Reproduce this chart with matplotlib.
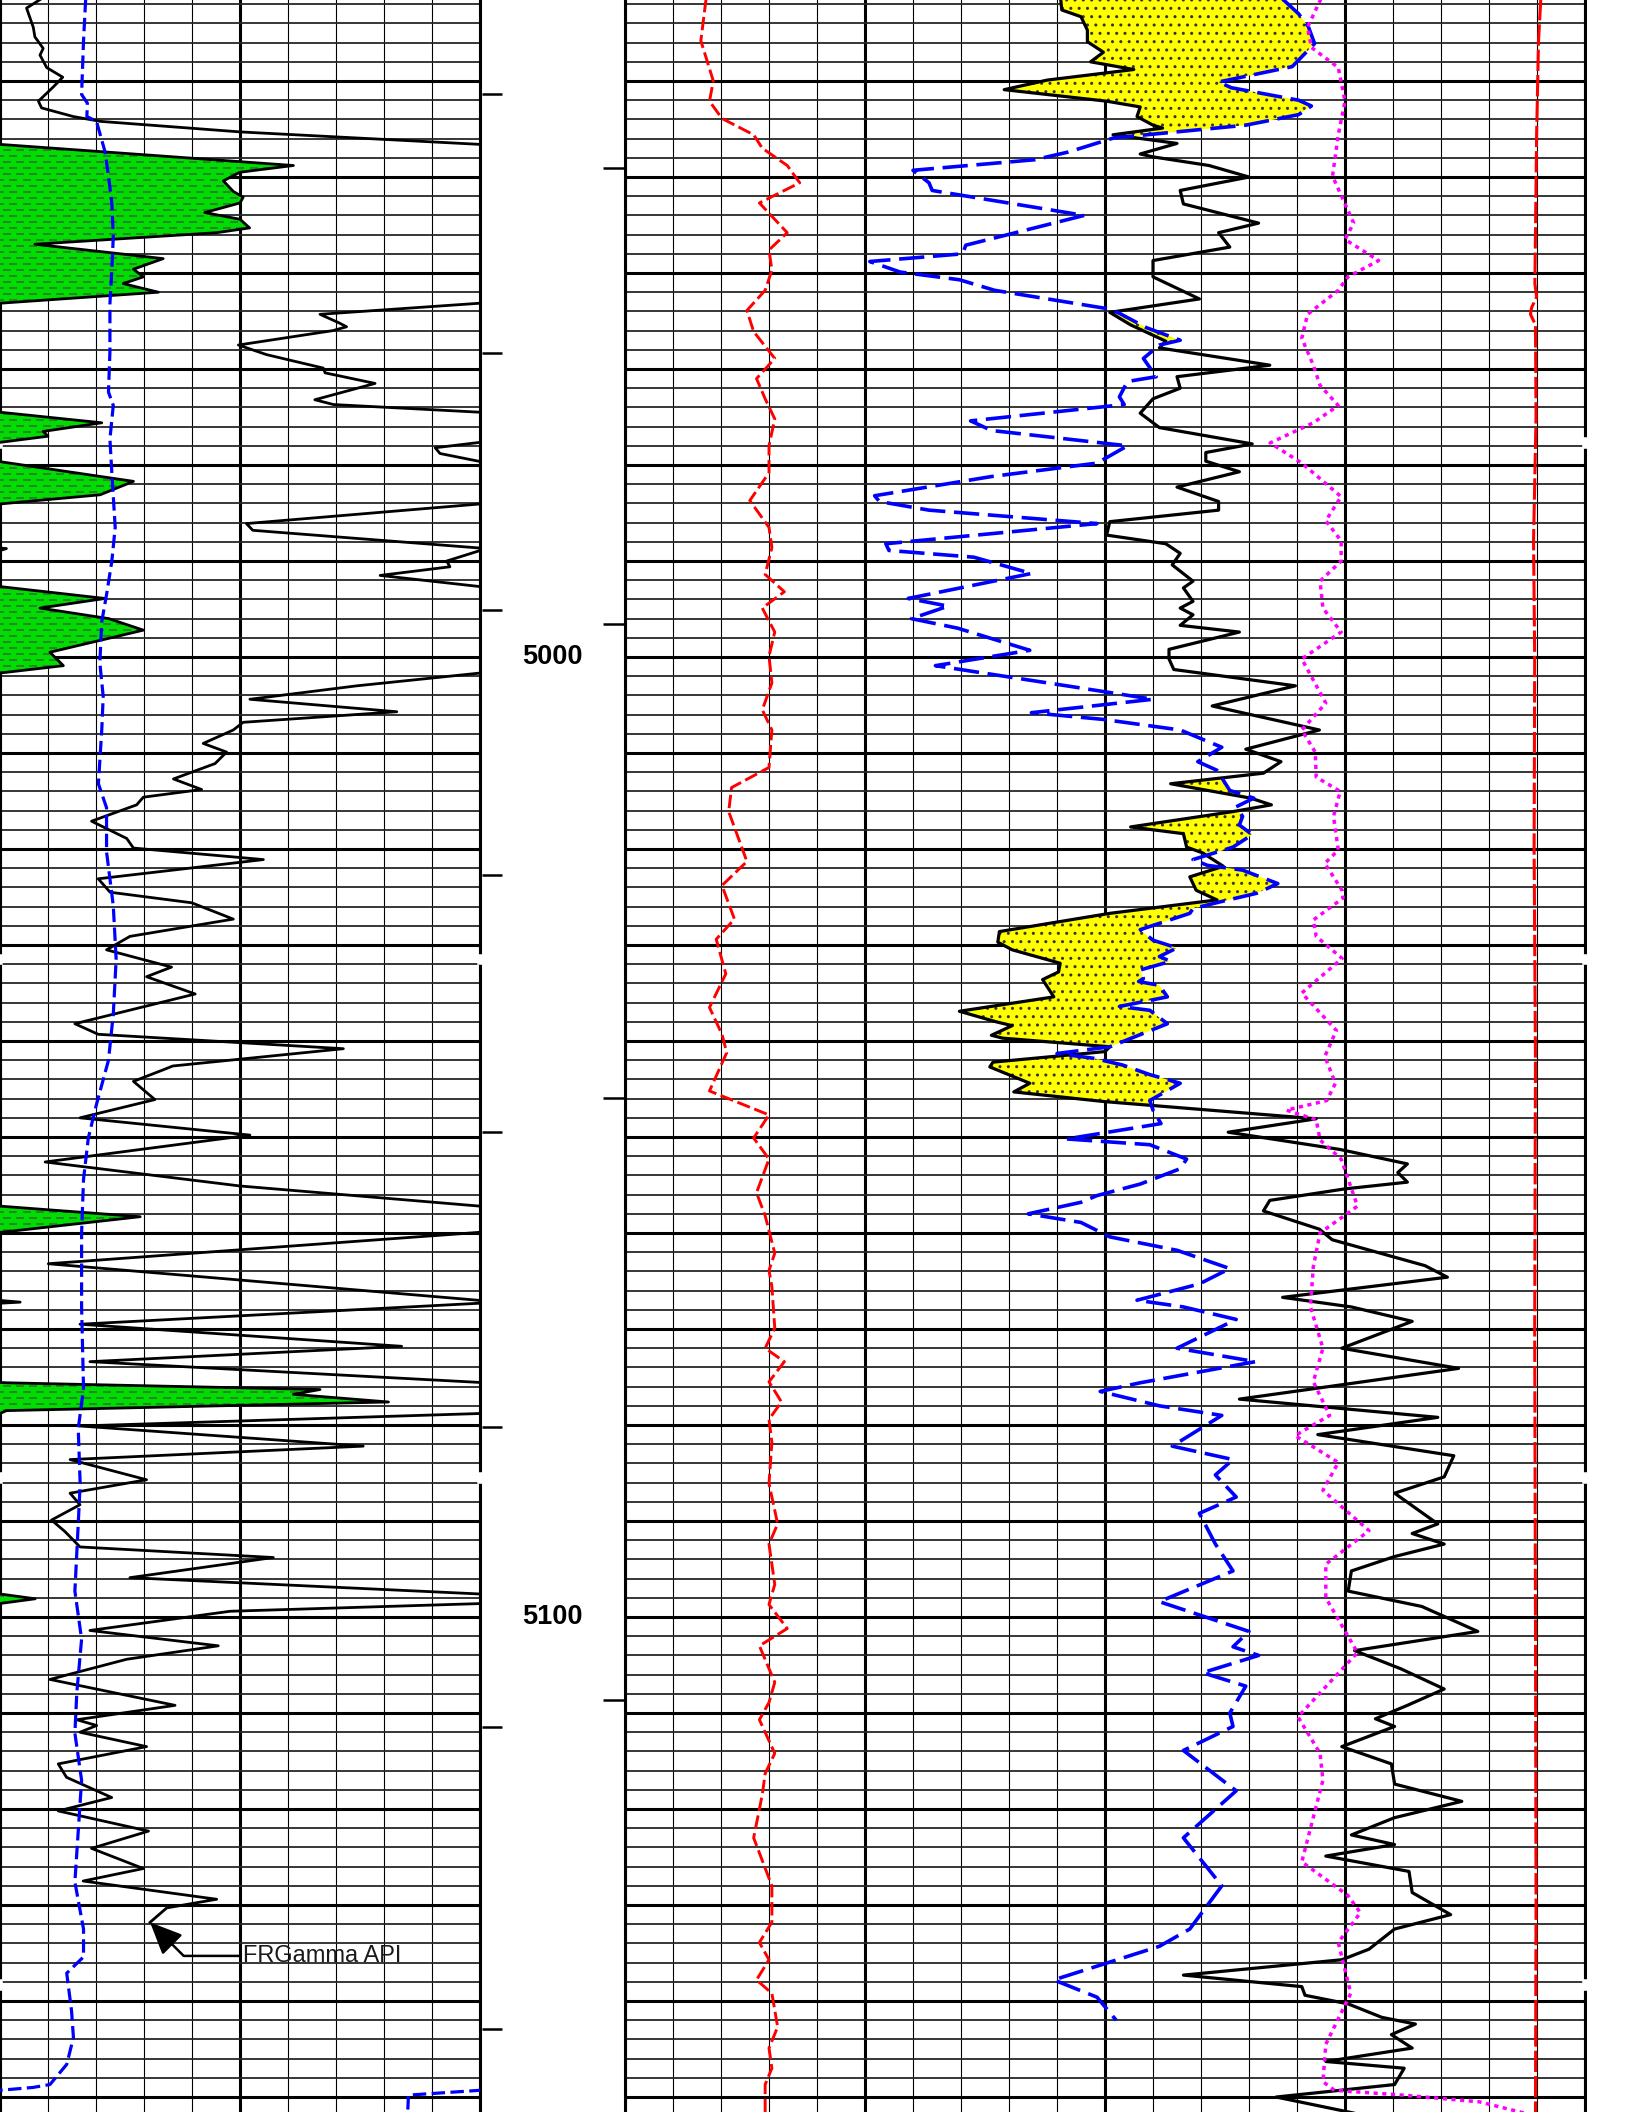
import matplotlib.pyplot as plt
import numpy as np
from matplotlib.path import Path
from matplotlib.ticker import MultipleLocator

plt.rcParams['font.family'] = ['Liberation Sans', 'DejaVu Sans']
plt.rcParams['hatch.color'] = '#333333'
plt.rcParams['hatch.linewidth'] = 1.0
plt.rcParams['lines.solid_joinstyle'] = 'round'
plt.rcParams['lines.dash_joinstyle'] = 'round'

TOP, BASE = 4931.56, 5151.56

# gamma ray (API), 0-150 with wrap onto 150-300 backup scale
gr_depth = [4931.0, 4932.4, 4934.4, 4935.4, 4936.6, 4937.3, 4938.6, 4939.6, 4940.6, 4942.1,
            4942.8, 4943.7, 4944.2, 4945.3, 4946.6, 4948.8, 4949.5, 4950.4, 4951.5, 4952.1,
            4952.7, 4953.7, 4954.4, 4955.3, 4955.8, 4957.0, 4958.5, 4959.6, 4960.4, 4961.1,
            4962.0, 4963.1, 4964.3, 4965.2, 4965.6, 4966.0, 4967.5, 4968.5, 4969.9, 4970.4,
            4971.5, 4973.2, 4973.7, 4974.5, 4975.6, 4976.5, 4977.0, 4977.6, 4978.2, 4978.8,
            4979.7, 4981.7, 4983.1, 4984.0, 4986.1, 4986.8, 4988.7, 4990.0, 4990.6, 4991.5,
            4992.7, 4993.9, 4994.9, 4996.0, 4997.2, 4999.5, 5000.9, 5001.6, 5003.0, 5004.4,
            5005.7, 5006.8, 5007.6, 5009.0, 5009.9, 5011.1, 5012.7, 5013.8, 5014.6, 5015.4,
            5017.1, 5018.9, 5019.9, 5021.1, 5023.1, 5024.5, 5025.6, 5027.3, 5029.1, 5030.5,
            5032.3, 5033.3, 5035.1, 5038.2, 5039.3, 5040.8, 5042.6, 5043.0, 5044.2, 5046.1,
            5048.0, 5049.8, 5052.6, 5055.1, 5057.2, 5058.3, 5059.9, 5063.2, 5067.2, 5069.5,
            5071.8, 5073.4, 5075.6, 5076.3, 5076.8, 5077.6, 5078.5, 5078.8, 5080.1, 5082.2,
            5083.6, 5085.7, 5087.1, 5088.3, 5089.9, 5091.1, 5092.7, 5093.8, 5095.9, 5097.6,
            5098.1, 5098.6, 5099.4, 5101.4, 5103.0, 5104.4, 5106.5, 5109.2, 5110.7, 5111.3,
            5112.0, 5113.5, 5115.3, 5116.7, 5118.8, 5120.2, 5122.3, 5124.1, 5126.2, 5127.5,
            5129.4, 5130.3, 5131.8]
gr_api = [15.0, 8.3, 10.4, 10.9, 13.5, 12.5, 14.6, 19.6, 16.7, 12.0,
          13.0, 22.9, 31.3, 75.0, 150.0, 241.7, 225.0, 219.8, 222.9, 226.0,
          225.0, 214.0, 225.0, 228.0, 217.7, 160.9, 201.0, 191.7, 194.8, 188.5,
          199.5, 152.0, 100.0, 106.0, 108.3, 104.0, 74.5, 83.3, 101.0, 101.6,
          117.2, 98.4, 104.2, 150.0, 181.8, 163.5, 165.0, 151.0, 136.0, 137.5,
          151.0, 191.7, 181.3, 152.0, 77.0, 79.0, 152.0, 139.6, 140.6, 118.8,
          151.0, 182.8, 162.5, 184.0, 194.8, 165.6, 169.8, 152.0, 111.5, 78.1,
          124.0, 76.0, 72.9, 63.5, 70.8, 67.2, 54.2, 63.0, 44.8, 42.7,
          28.6, 39.6, 41.7, 82.3, 30.7, 34.4, 59.9, 72.9, 40.6, 33.3,
          53.6, 45.8, 61.0, 23.4, 30.7, 107.3, 54.0, 51.0, 41.7, 48.4,
          25.0, 78.1, 14.1, 75.0, 150.0, 193.8, 151.0, 15.1, 156.3, 25.0,
          125.5, 28.1, 152.0, 250.0, 241.7, 271.4, 152.0, 150.0, 25.0, 113.5,
          21.9, 45.8, 21.9, 25.0, 16.1, 20.3, 25.0, 85.4, 40.6, 150.0,
          161.0, 150.0, 71.9, 28.1, 68.2, 39.6, 15.6, 54.7, 24.0, 30.2,
          25.0, 45.8, 18.2, 20.8, 34.9, 18.2, 46.4, 28.6, 44.8, 26.0,
          67.7, 52.1, 46.9]

# caliper in the gamma ray track (in), 6-16 with wrap below 6
cal_depth = [4931.0, 4935.8, 4941.4, 4942.3, 4943.7, 4944.2, 4947.4, 4949.9, 4952.7, 4956.2,
             4959.7, 4963.2, 4968.2, 4972.4, 4973.8, 4977.3, 4980.8, 4986.5, 4990.0, 4993.5,
             4996.3, 5000.6, 5004.1, 5007.6, 5013.2, 5015.7, 5020.3, 5025.9, 5031.5, 5037.2,
             5042.0, 5046.6, 5050.1, 5054.4, 5060.0, 5067.7, 5076.2, 5080.4, 5086.1, 5090.3,
             5097.3, 5102.3, 5107.9, 5112.1, 5117.0, 5127.6, 5132.5, 5135.4, 5137.1, 5141.0,
             5143.8, 5146.6, 5148.7, 5149.0, 5149.3, 5149.8, 5152.0]
cal_in = [7.79, 7.74, 7.70, 7.82, 7.81, 8.01, 8.19, 8.26, 8.33, 8.36,
          8.33, 8.29, 8.29, 8.26, 8.36, 8.29, 8.33, 8.40, 8.33, 8.22,
          8.12, 8.08, 8.15, 8.12, 8.05, 8.22, 8.22, 8.36, 8.42, 8.36,
          8.26, 8.01, 7.84, 7.74, 7.70, 7.70, 7.74, 7.63, 7.67, 7.63,
          7.56, 7.70, 7.60, 7.56, 7.70, 7.56, 7.74, 7.74, 7.39, 7.49,
          7.53, 7.39, 7.04, 6.69, 6.00, 4.51, 4.49]

# density porosity (%), 45 .. -15
dphi_depth = [4931.0, 4932.6, 4933.3, 4934.7, 4935.9, 4937.0, 4938.0, 4938.8, 4939.9, 4940.9,
              4942.1, 4942.7, 4943.7, 4944.6, 4944.9, 4945.6, 4946.5, 4947.6, 4947.9, 4948.8,
              4950.0, 4951.4, 4952.8, 4954.8, 4955.8, 4957.3, 4958.7, 4960.4, 4962.7, 4964.1,
              4965.4, 4967.1, 4967.8, 4969.6, 4970.8, 4972.0, 4973.1, 4974.6, 4976.1, 4977.8,
              4978.7, 4979.6, 4980.7, 4982.3, 4983.8, 4984.7, 4985.9, 4987.3, 4988.2, 4989.2,
              4990.4, 4992.1, 4992.8, 4994.2, 4994.9, 4995.6, 4996.7, 4997.4, 4999.2, 5000.2,
              5001.3, 5003.0, 5005.1, 5007.6, 5009.6, 5010.9, 5012.1, 5013.2, 5014.7, 5015.4,
              5016.1, 5017.7, 5018.4, 5019.8, 5020.4, 5021.8, 5022.9, 5024.3, 5025.3, 5026.7,
              5028.6, 5029.7, 5030.5, 5031.9, 5032.8, 5033.6, 5035.4, 5036.9, 5038.0, 5038.4,
              5039.4, 5039.7, 5040.6, 5041.1, 5042.2, 5042.7, 5044.4, 5045.3, 5046.3, 5048.1,
              5049.5, 5051.3, 5052.8, 5053.7, 5054.7, 5055.4, 5056.6, 5057.7, 5059.6, 5060.7,
              5063.4, 5064.6, 5066.7, 5067.7, 5069.2, 5072.0, 5074.1, 5077.3, 5079.2, 5081.0,
              5083.2, 5085.4, 5087.1, 5090.3, 5091.3, 5092.4, 5093.7, 5095.2, 5097.3, 5098.9,
              5101.5, 5103.5, 5105.4, 5107.5, 5109.2, 5110.6, 5111.4, 5113.5, 5115.3, 5117.4,
              5119.2, 5120.9, 5122.7, 5123.7, 5124.9, 5126.5, 5128.7, 5131.0, 5132.5, 5134.6,
              5135.7, 5137.3, 5138.5, 5139.4, 5140.3, 5141.7, 5142.4, 5143.5, 5144.9, 5146.3,
              5147.0, 5148.7, 5150.0, 5152.0]
dphi = [17.8, 17.7, 16.5, 16.1, 16.1, 15.1, 15.9, 13.2, 18.6, 21.3,
        14.9, 12.8, 13.0, 12.0, 11.4, 14.5, 10.5, 12.8, 12.0, 8.5,
        6.0, 10.3, 10.1, 5.4, 7.9, 7.2, 12.0, 12.0, 9.1, 14.7,
        13.4, 11.2, 11.6, 4.7, 10.5, 10.3, 12.0, 12.8, 11.6, 5.8,
        8.7, 8.7, 6.6, 10.5, 7.9, 7.9, 14.7, 14.9, 11.2, 10.3,
        10.8, 9.5, 10.1, 9.5, 10.3, 9.5, 10.3, 6.6, 11.0, 11.0,
        10.7, 3.1, 8.3, 1.6, 6.2, 4.0, 5.1, 10.9, 5.9, 4.6,
        7.0, 13.4, 10.1, 9.9, 8.9, 7.6, 9.7, 9.3, 8.0, 14.7,
        21.6, 21.7, 20.8, 17.8, 17.9, 18.9, 18.2, 24.1, 21.8, 20.8,
        22.1, 21.4, 14.7, 15.0, 22.0, 22.2, 19.7, 20.7, 15.1, 1.8,
        7.3, 0.3, -3.9, -3.3, -3.9, 0.0, 4.7, 5.1, 1.6, 0.8,
        -5.0, -6.4, 3.9, -0.4, -4.2, 0.2, -7.1, 6.6, -5.8, 1.7,
        -6.8, -6.2, -3.1, -5.8, -4.2, -6.2, -3.1, -0.4, -0.2, -4.8,
        -8.3, -0.6, -3.5, -6.2, -3.9, -1.9, -3.1, 0.2, -2.9, -3.1,
        -7.3, -3.1, -0.4, -3.1, 1.2, -4.0, -4.2, -6.6, -3.1, -1.5,
        0.2, 10.1, 2.7, 2.5, -0.2, -2.3, -4.4, -2.9, -4.2, 1.2,
        -3.7, -3.1, 4.3, -1.5]

# neutron porosity (%), same scale
nphi_depth = [4931.0, 4933.0, 4934.3, 4936.1, 4938.5, 4940.1, 4940.7, 4942.0, 4942.6, 4943.5,
              4944.6, 4945.6, 4945.9, 4947.4, 4948.2, 4949.3, 4950.6, 4951.4, 4954.0, 4957.1,
              4958.0, 4958.8, 4959.9, 4960.7, 4961.8, 4963.7, 4964.2, 4965.7, 4967.0, 4967.5,
              4968.9, 4970.8, 4971.3, 4972.9, 4973.7, 4975.4, 4976.4, 4978.0, 4979.8, 4981.2,
              4983.2, 4983.8, 4984.7, 4986.1, 4988.2, 4988.9, 4989.6, 4991.3, 4993.9, 4994.7,
              4996.0, 4997.0, 4999.3, 5000.9, 5003.0, 5004.4, 5005.8, 5006.5, 5007.6, 5009.4,
              5010.9, 5011.8, 5013.9, 5014.7, 5015.6, 5016.6, 5017.5, 5018.5, 5019.8, 5021.1,
              5021.7, 5022.2, 5023.6, 5024.6, 5025.5, 5026.2, 5026.7, 5028.4, 5029.5, 5030.3,
              5031.2, 5031.7, 5032.6, 5033.5, 5033.8, 5034.2, 5035.4, 5036.4, 5036.8, 5038.2,
              5040.6, 5041.3, 5041.8, 5042.5, 5043.5, 5044.4, 5046.2, 5047.2, 5048.6, 5050.2,
              5050.8, 5052.3, 5053.3, 5054.9, 5056.1, 5056.8, 5058.0, 5058.9, 5060.4, 5061.8,
              5063.7, 5065.3, 5067.0, 5067.7, 5069.0, 5072.0, 5073.4, 5075.6, 5076.5, 5078.0,
              5079.0, 5082.2, 5083.6, 5085.2, 5087.5, 5089.2, 5092.4, 5095.2, 5098.4, 5101.5,
              5103.1, 5104.0, 5105.8, 5107.2, 5110.0, 5111.4, 5113.9, 5118.1, 5123.0, 5128.0,
              5132.5, 5134.3, 5137.8, 5139.6, 5142.0]
nphi = [4.2, 2.9, 2.3, 1.9, 3.3, 7.9, 7.1, 2.9, 2.1, 2.9,
        6.2, 12.4, 14.4, 17.3, 19.4, 27.0, 26.0, 25.8, 16.3, 23.7,
        23.9, 29.7, 27.8, 24.1, 21.9, 14.9, 14.1, 12.4, 10.3, 11.6,
        12.6, 11.8, 13.6, 14.1, 13.8, 23.4, 22.1, 13.6, 15.5, 22.1,
        29.4, 29.1, 26.0, 15.5, 28.7, 28.5, 23.2, 19.6, 27.3, 24.8,
        27.1, 24.2, 19.7, 25.6, 17.4, 12.0, 19.6, 15.1, 10.3, 7.7,
        9.2, 8.0, 7.2, 5.7, 6.8, 6.4, 6.6, 5.8, 7.0, 9.5,
        8.6, 6.4, 4.2, 5.5, 7.8, 9.5, 9.7, 12.8, 12.0, 10.5,
        11.6, 10.9, 12.8, 12.6, 12.9, 11.6, 11.1, 14.1, 12.2, 11.1,
        14.7, 18.0, 15.7, 13.9, 12.2, 10.3, 12.2, 12.0, 11.5, 17.4,
        12.2, 9.9, 10.3, 12.8, 15.5, 16.5, 19.8, 16.5, 14.7, 10.5,
        7.2, 9.1, 13.0, 10.1, 6.8, 10.5, 5.6, 12.8, 15.3, 11.6,
        7.7, 10.8, 7.0, 8.1, 6.8, 9.1, 8.1, 7.0, 11.6, 6.0,
        7.0, 5.4, 8.9, 6.2, 7.2, 7.0, 10.1, 6.8, 10.1, 7.7,
        9.7, 11.6, 18.2, 15.5, 14.3]

# second caliper in the porosity track (in), 6-16
cali_depth = [4931.0, 4935.8, 4940.0, 4942.1, 4943.9, 4945.6, 4947.0, 4948.8, 4950.6, 4952.7,
              4955.8, 4957.6, 4959.7, 4961.8, 4963.9, 4966.1, 4968.9, 4971.0, 4973.1, 4975.2,
              4978.0, 4980.8, 4983.7, 4986.5, 4988.6, 4991.4, 4993.2, 4994.9, 4997.4, 4999.9,
              5002.7, 5005.5, 5007.6, 5011.5, 5013.6, 5016.1, 5021.3, 5023.8, 5027.3, 5029.4,
              5033.0, 5036.5, 5039.3, 5041.2, 5045.2, 5047.7, 5050.1, 5052.3, 5055.8, 5058.2,
              5062.1, 5063.9, 5065.6, 5069.9, 5072.0, 5073.4, 5075.5, 5077.6, 5079.4, 5081.8,
              5086.1, 5090.3, 5092.4, 5096.6, 5098.7, 5101.2, 5103.0, 5106.8, 5108.9, 5110.7,
              5114.2, 5116.3, 5118.5, 5123.0, 5128.0, 5131.8, 5133.9, 5135.7, 5137.8, 5139.2,
              5142.7, 5144.9, 5147.0, 5148.7, 5152.0]
cali_in = [6.85, 6.79, 6.92, 6.88, 7.01, 7.34, 7.43, 7.69, 7.82, 7.40,
           7.69, 7.50, 7.53, 7.46, 7.27, 7.34, 7.56, 7.37, 7.46, 7.56,
           7.50, 7.50, 7.30, 7.50, 7.53, 7.46, 7.66, 7.43, 7.56, 7.50,
           7.53, 7.43, 7.53, 7.50, 7.11, 7.08, 7.27, 7.01, 7.14, 6.95,
           7.05, 6.88, 7.01, 7.06, 6.88, 7.50, 7.34, 7.50, 7.37, 7.46,
           7.56, 7.50, 7.53, 7.56, 7.46, 7.66, 7.50, 7.63, 7.50, 7.53,
           7.50, 7.59, 7.50, 7.56, 7.50, 7.69, 7.40, 7.56, 7.50, 7.40,
           7.56, 7.46, 7.43, 7.34, 7.53, 7.53, 7.40, 7.50, 7.37, 7.53,
           7.59, 7.50, 7.53, 7.46, 7.46]

# bulk density (g/cc), 1.95-2.95
rhob_depth = [4931.0, 4934.4, 4936.5, 4938.6, 4942.1, 4945.6, 4949.9, 4954.8, 4956.5, 4958.7,
              4960.4, 4961.8, 4964.3, 4966.8, 4969.6, 4971.7, 4973.8, 4975.6, 4977.7, 4979.8,
              4983.3, 4985.8, 4987.9, 4990.0, 4992.1, 4994.9, 4997.4, 5000.2, 5004.8, 5007.6,
              5009.9, 5012.5, 5014.0, 5016.6, 5020.1, 5021.5, 5024.3, 5025.1, 5027.4, 5029.1,
              5031.4, 5035.0, 5038.9, 5041.6, 5044.4, 5046.2, 5047.2, 5048.2, 5050.3, 5052.3,
              5057.2, 5060.0, 5063.5, 5067.7, 5072.0, 5075.5, 5079.0, 5081.1, 5083.9, 5086.8,
              5091.0, 5094.5, 5098.0, 5103.7, 5106.5, 5110.4, 5114.2, 5117.0, 5125.5, 5129.0,
              5130.8, 5133.9, 5139.2, 5144.5, 5148.4, 5149.3, 5149.8, 5150.5, 5152.0]
rhob = [2.677, 2.661, 2.665, 2.693, 2.700, 2.693, 2.687, 2.709, 2.700, 2.735,
        2.703, 2.693, 2.661, 2.655, 2.667, 2.674, 2.693, 2.667, 2.622, 2.655,
        2.696, 2.680, 2.696, 2.696, 2.674, 2.677, 2.696, 2.655, 2.680, 2.655,
        2.669, 2.670, 2.695, 2.688, 2.693, 2.679, 2.697, 2.698, 2.667, 2.670,
        2.697, 2.655, 2.691, 2.679, 2.690, 2.681, 2.639, 2.670, 2.674, 2.696,
        2.713, 2.674, 2.667, 2.664, 2.677, 2.667, 2.684, 2.648, 2.693, 2.677,
        2.725, 2.680, 2.680, 2.713, 2.687, 2.651, 2.674, 2.677, 2.655, 2.703,
        2.716, 2.693, 2.706, 2.680, 2.677, 2.689, 2.760, 2.840, 2.900]

# cable tension (lbf), 0-5000
tens_depth = [4931.0, 4935.8, 4945.6, 4961.1, 4962.5, 4963.6, 4964.3, 4965.4, 4975.0, 4987.9,
              5000.0, 5020.0, 5042.0, 5070.0, 5100.0, 5130.0, 5152.0]
tens = [4771, 4758, 4748, 4739, 4748, 4722, 4716, 4742, 4745, 4732,
        4738, 4735, 4742, 4738, 4742, 4745, 4742]

# depth track
tie_left = [4941.4, 4968.3, 4995.1, 5022.7, 5049.5, 5080.2, 5111.5, 5142.9]
tie_right = [4949.1, 4996.6, 5045.9, 5108.6]
depth_labels = [5000, 5100]
page_breaks = [4977.7, 5031.5, 5085.5, 5138.3]


def style_track(ax, xlo, xhi, major, minor):
    ax.set_xlim(xlo, xhi)
    ax.set_ylim(BASE, TOP)
    ax.xaxis.set_major_locator(MultipleLocator(major))
    ax.xaxis.set_minor_locator(MultipleLocator(minor))
    ax.yaxis.set_major_locator(MultipleLocator(10))
    ax.yaxis.set_minor_locator(MultipleLocator(2))
    ax.grid(which='major', color='black', lw=2.2)
    ax.xaxis.grid(which='minor', color='black', lw=0.8)
    ax.yaxis.grid(which='minor', color='#262626', lw=1.3)
    ax.set_axisbelow(True)
    ax.tick_params(which='both', length=0, labelbottom=False, labelleft=False)
    ax.spines['top'].set_visible(False)
    ax.spines['bottom'].set_visible(False)
    ax.spines['left'].set_linewidth(2.2)
    ax.spines['right'].set_linewidth(2.2)


def overlay(ax, lo, hi):
    tw = ax.twiny()
    tw.set_xlim(lo, hi)
    tw.set_axis_off()
    return tw


fig = plt.figure(figsize=(16.32, 21.12), dpi=100)
W = 1632.0
ax_gr = fig.add_axes([0, 0, 480 / W, 1])
ax_dep = fig.add_axes([480 / W, 0, 145 / W, 1])
ax_por = fig.add_axes([625 / W, 0, 960 / W, 1])

# ---- gamma ray track
style_track(ax_gr, 0, 150, 75, 15)
ax_gr.plot(gr_api, gr_depth, color='black', lw=2.0, zorder=3)

gr_back = overlay(ax_gr, 150, 300)
gr = np.array(gr_api)
gd = np.array(gr_depth)
shale = gr_back.fill_betweenx(gd, 150, gr, where=gr > 150, interpolate=True,
                              facecolor='#00dd00', lw=0, zorder=1)
# shale symbol: staggered rows of short dashes inside the green fill
ty = np.arange(TOP, BASE, 0.625)
tx = np.arange(150, 305, 4.17)
X, Y = np.meshgrid(tx, ty)
X = X + (np.arange(len(ty)) % 2)[:, None] * 2.08
marks = gr_back.scatter(X.ravel(), Y.ravel(), marker='_', s=30, linewidths=1.1,
                        color='#2a842a', zorder=2)
marks.set_clip_path(Path.make_compound_path(*shale.get_paths()), gr_back.transData)
gr_back.plot(gr_api, gr_depth, color='black', lw=2.0, zorder=3)

cal_ax = overlay(ax_gr, 6, 16)
cal_ax.plot(cal_in, cal_depth, color='#0000ff', lw=2.3, dashes=(4.2, 1.7))
cal_wrap = overlay(ax_gr, -4, 6)
cal_wrap.plot(cal_in, cal_depth, color='#0000ff', lw=2.3, dashes=(4.2, 1.7))

ax_gr.annotate('FRGamma API', xy=(gr_api[-1], gr_depth[-1]), xytext=(75.9, 5135.3),
               ha='left', va='center', fontsize=17, color='#1a1a1a',
               arrowprops=dict(arrowstyle='-|>,head_length=0.9,head_width=0.4',
                               connectionstyle='angle,angleA=0,angleB=-45,rad=0',
                               color='black', lw=1.8, mutation_scale=22,
                               shrinkA=1, shrinkB=0))

# ---- depth track
ax_dep.set_xlim(0, 1)
ax_dep.set_ylim(BASE, TOP)
ax_dep.axis('off')
ax_dep.hlines(tie_left, 0.014, 0.152, color='black', lw=1.8)
ax_dep.hlines(tie_right, 0.848, 1.0, color='black', lw=1.8)
for d in depth_labels:
    ax_dep.text(0.497, d, str(d), ha='center', va='center', fontsize=19.5,
                fontweight='bold', color='black')

# ---- porosity track
style_track(ax_por, 45, -15, 15, 3)
dgrid = np.union1d(dphi_depth, nphi_depth)
dp = np.interp(dgrid, dphi_depth, dphi)
npor = np.interp(dgrid, nphi_depth, nphi)
ax_por.fill_betweenx(dgrid, dp, npor, where=dp > npor, interpolate=True,
                     facecolor='#ffff00', edgecolor='#333333', hatch='..', lw=0, zorder=1)
ax_por.plot(dphi, dphi_depth, color='black', lw=2.3, zorder=3)
ax_por.plot(nphi, nphi_depth, color='#0000ff', lw=2.6, dashes=(7, 2.4), zorder=3)

cali_ax = overlay(ax_por, 6, 16)
cali_ax.plot(cali_in, cali_depth, color='#ff0000', lw=2.1, dashes=(4.6, 1.6))
rhob_ax = overlay(ax_por, 1.95, 2.95)
rhob_ax.plot(rhob, rhob_depth, color='#ff00ff', lw=2.5, dashes=(1.2, 1.3))
tens_ax = overlay(ax_por, 0, 5000)
tens_ax.plot(tens, tens_depth, color='#ff0000', lw=2.2, dashes=(7, 1.3))

# small breaks in the outer borders between log sections
for d in page_breaks:
    ax_gr.plot([0, 0], [d - 0.3, d + 0.3], color='white', lw=4, clip_on=False, zorder=10)
    ax_por.plot([-15, -15], [d - 0.3, d + 0.3], color='white', lw=4, clip_on=False, zorder=10)
for d in page_breaks[1:3]:
    ax_gr.plot([150, 150], [d - 0.3, d + 0.3], color='white', lw=4, clip_on=False, zorder=10)

fig.savefig('out.png', dpi=100)
